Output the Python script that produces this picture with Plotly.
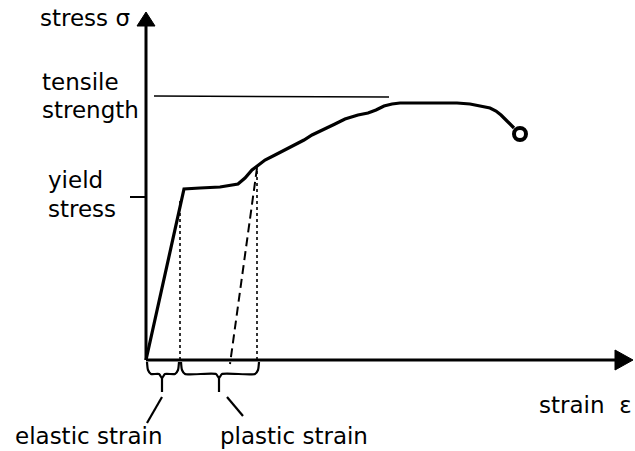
import plotly.graph_objects as go

# Schematic stress-strain curve (arbitrary units)
strain = [0, 38, 54, 74, 92, 99, 106, 111, 119, 129, 139, 149, 158, 166, 177,
          189, 199, 212, 222, 230, 238, 246, 254, 274, 294, 311, 324, 336, 344,
          350, 355, 361, 368]
stress = [0, 171, 172, 173, 176, 182, 190, 194, 200, 205, 210, 215, 220, 225, 230,
          236, 241, 245, 247, 250, 254, 256, 257, 257, 257, 257, 256, 254, 252,
          249, 245, 239, 232]
fracture_strain = [374]
fracture_stress = [226]

tensile_strength = 264
yield_stress = 163
elastic_limit_strain = 34      # end of elastic strain (dotted line)
unload_strain = 111            # point where unloading starts
unload_stress = 194
residual_strain = 84           # strain left after unloading (dashed line end)
axis_len_x = 487
axis_len_y = 348

fig = go.Figure()

black = "black"

# axes
fig.add_trace(go.Scatter(x=[0, axis_len_x - 18], y=[0, 0], mode="lines",
                         line=dict(color=black, width=3)))
fig.add_trace(go.Scatter(x=[0, 0], y=[0, axis_len_y - 14], mode="lines",
                         line=dict(color=black, width=3)))
# arrowheads
fig.add_trace(go.Scatter(x=[axis_len_x - 18, axis_len_x, axis_len_x - 18, axis_len_x - 18],
                         y=[10, 0, -10, 10], mode="lines", fill="toself",
                         fillcolor=black, line=dict(color=black, width=1)))
fig.add_trace(go.Scatter(x=[-9, 0, 9, -9],
                         y=[axis_len_y - 14, axis_len_y, axis_len_y - 14, axis_len_y - 14],
                         mode="lines", fill="toself",
                         fillcolor=black, line=dict(color=black, width=1)))

# tensile strength level line
fig.add_trace(go.Scatter(x=[8, 243], y=[tensile_strength, tensile_strength - 1], mode="lines",
                         line=dict(color=black, width=1.5)))
# yield stress tick
fig.add_trace(go.Scatter(x=[-16, 0], y=[yield_stress, yield_stress], mode="lines",
                         line=dict(color=black, width=2)))

# dotted verticals
fig.add_trace(go.Scatter(x=[elastic_limit_strain, elastic_limit_strain], y=[0, 160],
                         mode="lines", line=dict(color=black, width=1.6, dash="dot")))
fig.add_trace(go.Scatter(x=[unload_strain, unload_strain], y=[0, unload_stress],
                         mode="lines", line=dict(color=black, width=1.6, dash="dot")))
# dashed unloading line
fig.add_trace(go.Scatter(x=[unload_strain, residual_strain], y=[unload_stress - 2, -4],
                         mode="lines", line=dict(color=black, width=2, dash="9px,5px")))

# main curve
fig.add_trace(go.Scatter(x=strain, y=stress, mode="lines",
                         line=dict(color=black, width=3.2)))
# fracture mark
fig.add_trace(go.Scatter(x=fracture_strain, y=fracture_stress, mode="markers",
                         marker=dict(symbol="circle-open", size=12, color=black,
                                     line=dict(color=black, width=4))))

# braces
def brace(x0, x1, xm):
    xs = [x0 + 1, x0 + 2, x0 + 5, xm - 3, xm, xm + 3, x1 - 5, x1 - 2, x1 - 1]
    ys = [-2, -10, -14, -14, -18, -14, -14, -10, -2]
    return xs, ys

for (x0, x1, xm) in [(0, elastic_limit_strain, 16), (elastic_limit_strain, 114, 73)]:
    bx, by = brace(x0, x1, xm)
    fig.add_trace(go.Scatter(x=bx, y=by, mode="lines",
                             line=dict(color=black, width=2.2, shape="spline", smoothing=0.6)))
    fig.add_trace(go.Scatter(x=[xm, xm], y=[-18, -32], mode="lines",
                             line=dict(color=black, width=2.2)))

# leader lines to labels
fig.add_trace(go.Scatter(x=[16, 1], y=[-37, -63], mode="lines",
                         line=dict(color=black, width=2.2)))
fig.add_trace(go.Scatter(x=[81, 97], y=[-37, -56], mode="lines",
                         line=dict(color=black, width=2.2)))

labels = [
    ("stress σ", -108, 342, "left"),
    ("tensile", -106, 278, "left"),
    ("strength", -106, 250, "left"),
    ("yield", -100, 180, "left"),
    ("stress", -100, 151, "left"),
    ("strain\u00a0\u00a0ε", 488, -45, "right"),
    ("elastic strain", -133, -76, "left"),
    ("plastic strain", 72, -76, "left"),
]
for text, lx, ly, anchor in labels:
    fig.add_annotation(x=lx, y=ly, text=text, showarrow=False, xanchor=anchor,
                       yanchor="middle", xref="x", yref="y",
                       font=dict(family="DejaVu Sans", size=23, color=black))

fig.update_layout(
    width=635, height=451, margin=dict(l=0, r=0, t=0, b=0),
    paper_bgcolor="white", plot_bgcolor="white", showlegend=False,
    hovermode=False,
    xaxis=dict(range=[-146, 489], visible=False, fixedrange=True),
    yaxis=dict(range=[-91, 360], visible=False, fixedrange=True),
)

# remove the default page margin so the 635x451 figure fills the window exactly
fig.write_html("out.html",
               config={"displayModeBar": False, "staticPlot": True},
               post_script="document.body.style.margin='0';document.body.style.overflow='hidden';")
